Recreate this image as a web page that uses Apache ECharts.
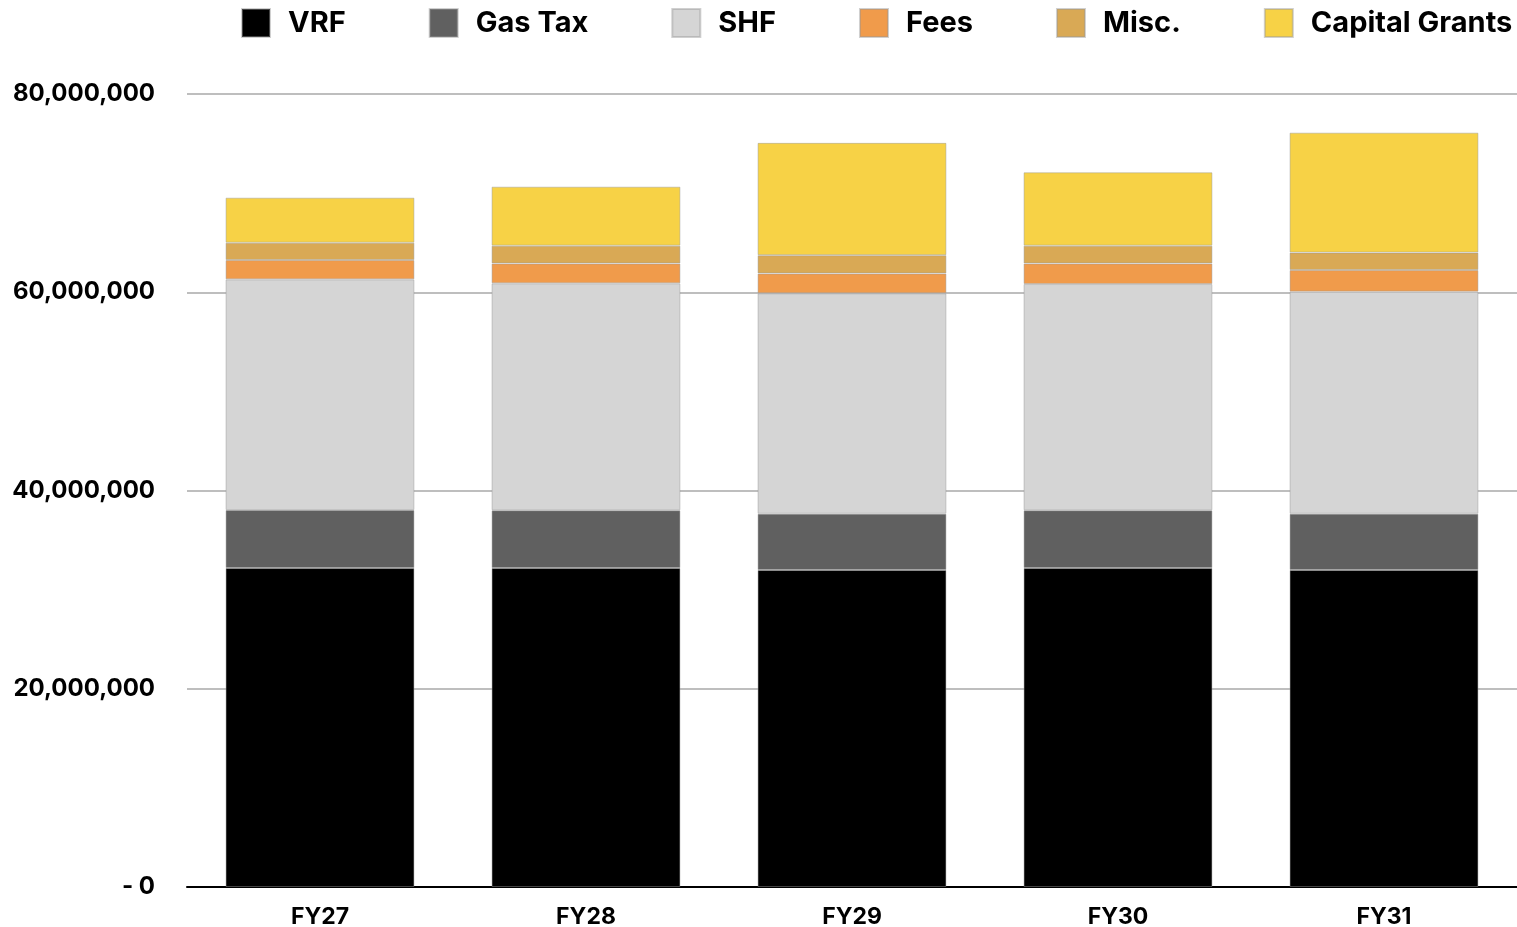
<!DOCTYPE html>
<html>
<head>
<meta charset="utf-8">
<script src="https://cdn.jsdelivr.net/npm/echarts@6/dist/echarts.min.js"></script>
<style>html,body{margin:0;padding:0;background:#fff}#c{width:1517px;height:927px}</style>
</head>
<body>
<div id="c"></div>
<script>
const categories = ['FY27', 'FY28', 'FY29', 'FY30', 'FY31'];
const vrf = [32180000, 32180000, 31980000, 32180000, 31980000];
const gasTax = [5850000, 5820000, 5670000, 5820000, 5670000];
const shf = [23270000, 22900000, 22240000, 22830000, 22410000];
const fees = [1950000, 2000000, 2000000, 2070000, 2180000];
const misc = [1750000, 1800000, 1850000, 1800000, 1760000];
const capitalGrants = [4540000, 5950000, 11330000, 7400000, 12100000];
const yTicks = [0, 20000000, 40000000, 60000000, 80000000];

const seriesDefs = [
  ['VRF', vrf, '#000000'],
  ['Gas Tax', gasTax, '#606060'],
  ['SHF', shf, '#d5d5d5'],
  ['Fees', fees, '#f09b4b'],
  ['Misc.', misc, '#d9a955'],
  ['Capital Grants', capitalGrants, '#f7d246']
];

const font = 'Inter, "Liberation Sans", Arial, sans-serif';
const chart = echarts.init(document.getElementById('c'));
chart.setOption({
  animation: false,
  legend: {
    top: 3,
    left: 236,
    width: 1281,
    padding: [5, 0, 5, 5],
    itemWidth: 28,
    itemHeight: 28,
    itemGap: 83,
    icon: 'rect',
    textStyle: { fontFamily: font, fontWeight: 700, fontSize: 29, color: '#000', padding: [0, 0, 0, 13] },
    data: seriesDefs.map(d => d[0])
  },
  grid: { left: 187, right: 0, top: 94, bottom: 40, containLabel: false, outerBoundsMode: 'none' },
  xAxis: {
    type: 'category',
    data: categories,
    axisLine: { lineStyle: { color: '#000', width: 2 } },
    axisTick: { show: false },
    axisLabel: { fontFamily: font, fontWeight: 700, fontSize: 23, color: '#000', margin: 19 }
  },
  yAxis: {
    type: 'value',
    min: yTicks[0],
    max: yTicks[yTicks.length - 1],
    interval: yTicks[1] - yTicks[0],
    axisLine: { show: false },
    axisTick: { show: false },
    splitLine: { lineStyle: { color: '#a8a8a8', width: 1.5 } },
    axisLabel: {
      fontFamily: font, fontWeight: 700, fontSize: 24, color: '#000', margin: 32,
      padding: [6, 0, 0, 0],
      formatter: v => v === 0 ? '- 0' : v.toLocaleString('en-US')
    }
  },
  series: seriesDefs.map(([name, data, color]) => ({
    name, type: 'bar', stack: 'total', data,
    barWidth: '71%',
    itemStyle: { color, borderColor: 'rgba(150,150,150,0.45)', borderWidth: 1 }
  }))
});
</script>
</body>
</html>
